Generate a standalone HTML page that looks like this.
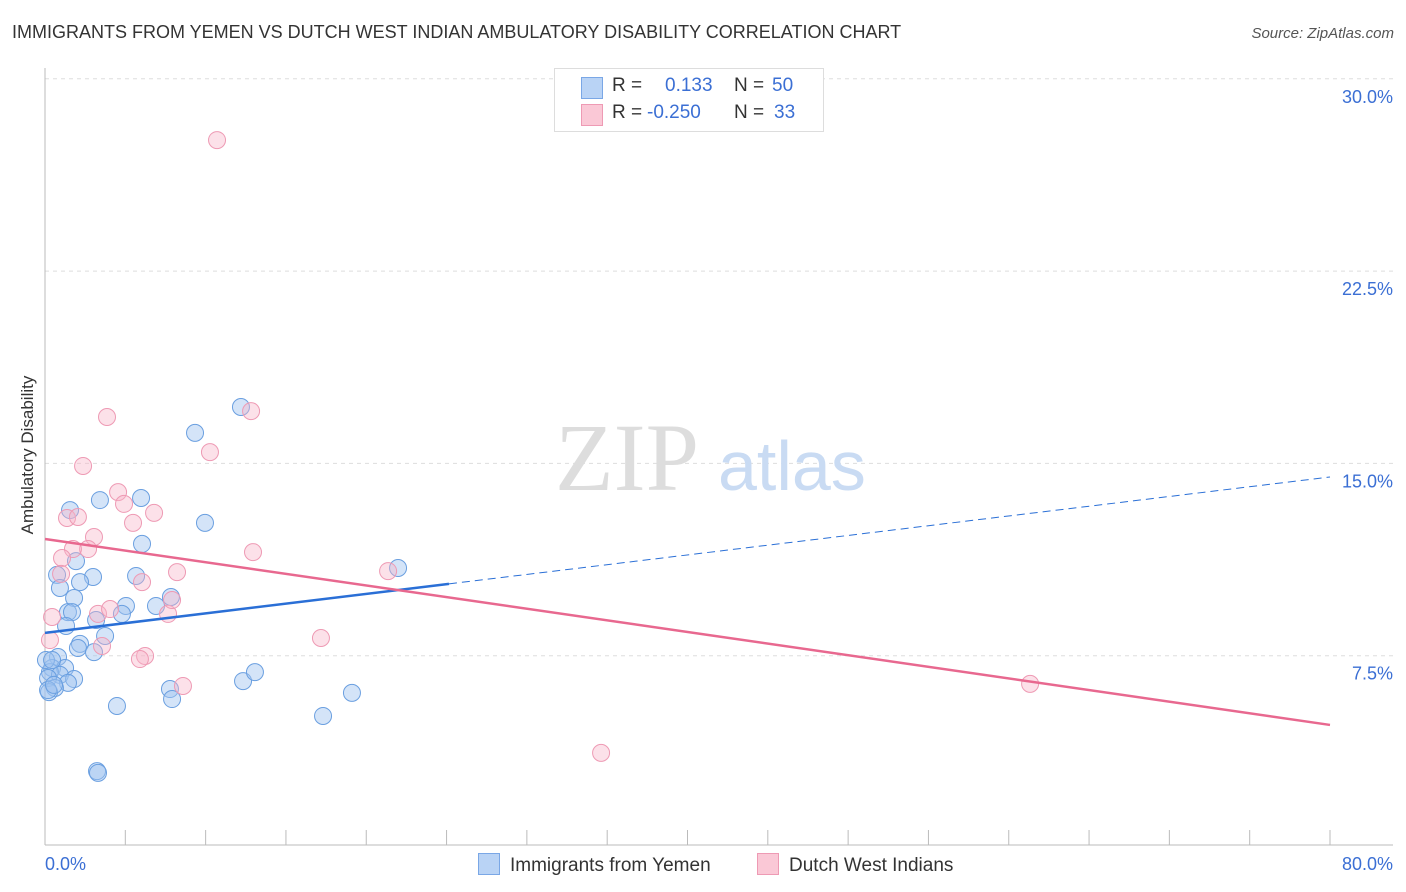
<!DOCTYPE html>
<html><head><meta charset="utf-8"><style>
body{margin:0;background:#fff;font-family:"Liberation Sans",sans-serif;}
#wrap{position:relative;width:1406px;height:892px;overflow:hidden;}
.t{position:absolute;white-space:nowrap;}
</style></head><body>
<div id="wrap">
<div class="t" style="left:12px;top:22px;font-size:18px;color:#333;">IMMIGRANTS FROM YEMEN VS DUTCH WEST INDIAN AMBULATORY DISABILITY CORRELATION CHART</div>
<div class="t" style="right:12px;top:25px;font-size:15px;color:#555;font-style:italic;">Source: ZipAtlas.com</div>
<div class="t" style="left:-52px;top:445px;font-size:17px;color:#333;transform:rotate(-90deg);width:160px;text-align:center;">Ambulatory Disability</div>
<svg id="plot" width="1406" height="892" style="position:absolute;left:0;top:0"></svg>
<div style="position:absolute;left:554px;top:68px;width:268px;height:62px;border:1px solid #ddd;background:#fff;font-size:19px;">
 <div style="position:absolute;left:26px;top:8px;width:20px;height:20px;background:#b9d3f5;border:1px solid #7aa7e6;"></div>
 <div class="t" style="left:57px;top:6px;color:#333">R =</div><div class="t" style="left:110px;top:6px;color:#3b6fd4">0.133</div>
 <div class="t" style="left:179px;top:6px;color:#333">N =</div><div class="t" style="left:217px;top:6px;color:#3b6fd4">50</div>
 <div style="position:absolute;left:26px;top:35px;width:20px;height:20px;background:#fac8d6;border:1px solid #ee9ab4;"></div>
 <div class="t" style="left:57px;top:33px;color:#333">R =</div><div class="t" style="left:92px;top:33px;color:#3b6fd4">-0.250</div>
 <div class="t" style="left:179px;top:33px;color:#333">N =</div><div class="t" style="left:219px;top:33px;color:#3b6fd4">33</div>
</div>
<div style="position:absolute;left:478px;top:853px;font-size:19px;color:#333;">
 <span style="display:inline-block;width:20px;height:20px;background:#b9d3f5;border:1px solid #7aa7e6;vertical-align:-4px;margin-right:10px"></span>Immigrants from Yemen</div>
<div style="position:absolute;left:757px;top:853px;font-size:19px;color:#333;">
 <span style="display:inline-block;width:20px;height:20px;background:#fac8d6;border:1px solid #ee9ab4;vertical-align:-4px;margin-right:10px"></span>Dutch West Indians</div>
</div>
<script>
const blueX=[12.2,9.34,5.98,3.42,1.56,9.96,6.04,1.93,0.75,2.99,5.67,2.18,0.93,1.81,5.04,6.91,7.84,1.43,1.68,4.79,3.18,1.31,3.74,2.18,2.05,3.05,0.81,0.44,1.25,0.31,0.93,1.81,0.19,1.43,0.62,0.25,7.78,12.33,13.07,19.11,4.48,7.91,17.31,3.24,3.30,21.98,0.19,0.56,0.06,0.44];
const blueY=[17.2,16.19,13.65,13.57,13.18,12.68,11.86,11.19,10.65,10.57,10.61,10.37,10.14,9.75,9.44,9.44,9.79,9.2,9.2,9.13,8.89,8.66,8.27,7.96,7.8,7.64,7.45,7.02,7.02,6.86,6.75,6.59,6.63,6.44,6.24,6.08,6.2,6.51,6.86,6.05,5.54,5.81,5.15,3.0,2.93,10.92,6.16,6.36,7.33,7.33];
const pinkX=[10.71,12.83,3.86,10.27,2.37,4.55,4.92,1.37,2.05,6.79,5.48,3.05,2.68,1.74,12.95,1.06,1.0,8.22,6.04,21.36,0.44,3.3,4.05,7.66,7.91,3.55,6.23,5.91,17.18,8.59,61.33,34.62,0.31];
const pinkY=[27.61,17.04,16.81,15.44,14.9,13.88,13.42,12.87,12.91,13.07,12.68,12.13,11.66,11.66,11.54,11.31,10.69,10.76,10.37,10.8,9.01,9.13,9.32,9.13,9.67,7.88,7.49,7.37,8.19,6.32,6.4,3.71,8.11];
const yTicks=[7.5,15,22.5,30];
const xTickVals=[0,10,20,30,40,50,60,70,80];
const blueTrend=[8.39,14.47]; // y at x=0 and x=80
const blueSolidEnd=25.15;
const pinkTrend=[12.05,4.80];
const X=v=>45+v/80*1285;
const Y=v=>848-v/7.5*192.3;
const svg=document.getElementById('plot');
const NS='http://www.w3.org/2000/svg';
function mk(tag,attrs){const e=document.createElementNS(NS,tag);for(const k in attrs)e.setAttribute(k,attrs[k]);svg.appendChild(e);return e;}
yTicks.forEach(v=>{
 const g=mk('line',{x1:45,x2:1393,y1:Y(v),y2:Y(v),stroke:'#ddd','stroke-dasharray':'4,4'});
 
 
 const t=mk('text',{x:1393,y:Y(v)+24,'text-anchor':'end','font-size':18,fill:'#3b6fd4','font-family':'Liberation Sans, sans-serif'});
 t.textContent=v.toFixed(1)+'%';
 
 
});
const ax=mk('line',{x1:45,x2:1393,y1:845,y2:845,stroke:'#bbb'});


const ay=mk('line',{x1:45,x2:45,y1:68,y2:845,stroke:'#bbb'});


xTickVals.forEach(v=>{
 const l=mk('line',{x1:X(v),x2:X(v),y1:830,y2:845,stroke:'#bbb'});
 
 
 const m=mk('line',{x1:X(v+5),x2:X(v+5),y1:830,y2:845,stroke:'#bbb'});
 if(v+5>80)m.remove();
 
 
});
[[0,'0.0%','start',45],[80,'80.0%','end',1393]].forEach(a=>{
 const t=mk('text',{x:a[3],y:870,'text-anchor':a[2],'font-size':18,fill:'#3b6fd4','font-family':'Liberation Sans, sans-serif'});
 t.textContent=a[1];
 
 
});
const w1=mk('text',{x:555,y:490,'font-size':96,fill:'#ddd','font-family':'Liberation Serif, serif'});
w1.textContent='ZIP';


const w2=mk('text',{x:718,y:490,'font-size':70,fill:'#c9dbf3','font-family':'Liberation Sans, sans-serif'});
w2.textContent='atlas';


blueX.forEach((x,i)=>{
 const c=mk('circle',{cx:X(x),cy:Y(blueY[i]),r:8.5,fill:'rgba(160,196,240,0.45)',stroke:'#6a9fe0','stroke-width':1});
 
 
});
pinkX.forEach((x,i)=>{
 const c=mk('circle',{cx:X(x),cy:Y(pinkY[i]),r:8.5,fill:'rgba(248,180,200,0.4)',stroke:'#ee9ab4','stroke-width':1});
 
 
});
const by=x=>blueTrend[0]+(blueTrend[1]-blueTrend[0])*x/80;
const bl=mk('line',{x1:X(0),y1:Y(by(0)),x2:X(blueSolidEnd),y2:Y(by(blueSolidEnd)),stroke:'#2a6fd6','stroke-width':2.5});


const bd=mk('line',{x1:X(blueSolidEnd),y1:Y(by(blueSolidEnd)),x2:X(80),y2:Y(by(80)),stroke:'#2a6fd6','stroke-width':1,'stroke-dasharray':'8,5'});


const pl=mk('line',{x1:X(0),y1:Y(pinkTrend[0]),x2:X(80),y2:Y(pinkTrend[1]),stroke:'#e8688f','stroke-width':2.5});


</script>
</body></html>
